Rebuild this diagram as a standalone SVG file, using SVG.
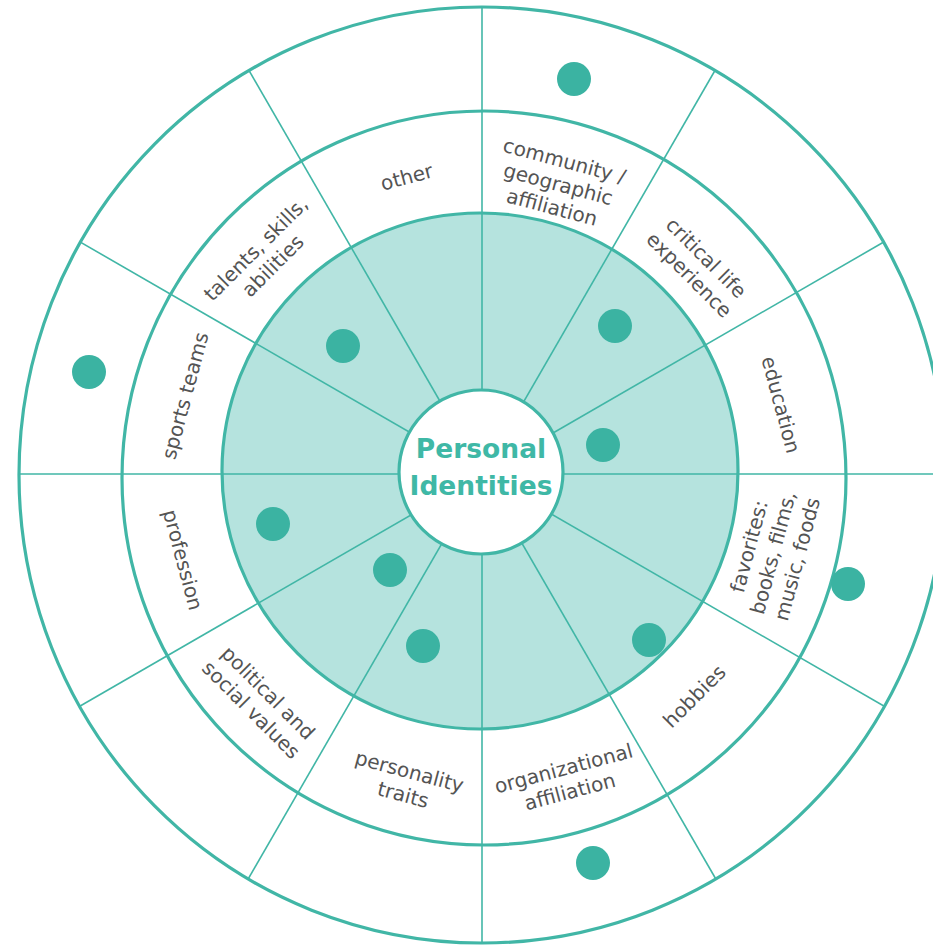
<svg xmlns="http://www.w3.org/2000/svg" width="933" height="945" viewBox="0 0 933 945">
  <style>
    .ring { fill: none; stroke: #41b6a6; stroke-width: 3.2; }
    .spoke { stroke: #41b6a6; stroke-width: 1.6; }
    .dot { fill: #3bb3a2; }
    .label { font-family: "DejaVu Sans", "Noto Sans", sans-serif; font-size: 20px; fill: #545454; text-anchor: middle; }
    .title { font-family: "DejaVu Sans", "Noto Sans", sans-serif; font-size: 26.5px; font-weight: bold; fill: #3fb8a6; text-anchor: middle; }
  </style>
  <defs>
    <clipPath id="outerClip">
      <ellipse cx="482" cy="475" rx="463" ry="468"/>
    </clipPath>
  </defs>

  <rect width="933" height="945" fill="#ffffff"/>

  <!-- shaded inner disc -->
  <circle id="inner-disc" cx="480" cy="471" r="258" fill="#b5e3de"/>

  <!-- twelve spokes, 30 degrees apart, trimmed to the outer ring -->
  <g id="spokes" class="spoke" clip-path="url(#outerClip)">
    <line x1="482" y1="474" x2="1000" y2="474"/>
    <line x1="482" y1="474" x2="915" y2="724"/>
    <line x1="482" y1="474" x2="732" y2="907"/>
    <line x1="482" y1="474" x2="482" y2="1000"/>
    <line x1="482" y1="474" x2="232" y2="907"/>
    <line x1="482" y1="474" x2="49" y2="724"/>
    <line x1="482" y1="474" x2="-40" y2="474"/>
    <line x1="482" y1="474" x2="49" y2="224"/>
    <line x1="482" y1="474" x2="232" y2="41"/>
    <line x1="482" y1="474" x2="482" y2="-60"/>
    <line x1="482" y1="474" x2="732" y2="41"/>
    <line x1="482" y1="474" x2="915" y2="224"/>
  </g>

  <!-- ring outlines -->
  <g id="rings">
    <ellipse class="ring" cx="482" cy="475" rx="463" ry="468"/>
    <ellipse class="ring" cx="484" cy="478" rx="362" ry="367"/>
    <circle class="ring" cx="480" cy="471" r="258"/>
  </g>

  <!-- hub -->
  <g id="hub">
    <circle cx="481" cy="472" r="82" fill="#ffffff" stroke="#41b6a6" stroke-width="3.2"/>
    <text class="title" x="481" y="458">Personal</text>
    <text class="title" x="481" y="495">Identities</text>
  </g>

  <!-- sector labels -->
  <g id="label-community" transform="translate(558,185) rotate(15)">
    <text class="label"><tspan x="0" y="-18">community /</tspan><tspan x="0" y="6">geographic</tspan><tspan x="0" y="30">affiliation</tspan></text>
  </g>
  <g id="label-critical" transform="translate(697,267) rotate(45)">
    <text class="label"><tspan x="0" y="-6">critical life</tspan><tspan x="0" y="18">experience</tspan></text>
  </g>
  <g id="label-education" transform="translate(780,405) rotate(75)">
    <text class="label" x="0" y="6">education</text>
  </g>
  <g id="label-favorites" transform="translate(774,553) rotate(-75)">
    <text class="label"><tspan x="0" y="-19">favorites:</tspan><tspan x="0" y="6">books, films,</tspan><tspan x="0" y="31">music, foods</tspan></text>
  </g>
  <g id="label-hobbies" transform="translate(695,697) rotate(-45)">
    <text class="label" x="0" y="6">hobbies</text>
  </g>
  <g id="label-organizational" transform="translate(567,781) rotate(-15)">
    <text class="label"><tspan x="0" y="-6">organizational</tspan><tspan x="0" y="18">affiliation</tspan></text>
  </g>
  <g id="label-personality" transform="translate(406,784) rotate(15)">
    <text class="label"><tspan x="0" y="-6">personality</tspan><tspan x="0" y="18">traits</tspan></text>
  </g>
  <g id="label-political" transform="translate(259,702) rotate(45)">
    <text class="label"><tspan x="0" y="-6">political and</tspan><tspan x="0" y="18">social values</tspan></text>
  </g>
  <g id="label-profession" transform="translate(182,560) rotate(75)">
    <text class="label" x="0" y="6">profession</text>
  </g>
  <g id="label-sports" transform="translate(186,396) rotate(-75)">
    <text class="label" x="0" y="6">sports teams</text>
  </g>
  <g id="label-talents" transform="translate(265,258) rotate(-45)">
    <text class="label"><tspan x="0" y="-6">talents, skills,</tspan><tspan x="0" y="18">abilities</tspan></text>
  </g>
  <g id="label-other" transform="translate(407,178) rotate(-15)">
    <text class="label" x="0" y="6">other</text>
  </g>

  <!-- markers -->
  <g id="dots">
    <circle class="dot" cx="574" cy="79" r="17"/>
    <circle class="dot" cx="89" cy="372" r="17"/>
    <circle class="dot" cx="343" cy="346" r="17"/>
    <circle class="dot" cx="615" cy="326" r="17"/>
    <circle class="dot" cx="603" cy="445" r="17"/>
    <circle class="dot" cx="273" cy="524" r="17"/>
    <circle class="dot" cx="390" cy="570" r="17"/>
    <circle class="dot" cx="423" cy="646" r="17"/>
    <circle class="dot" cx="649" cy="640" r="17"/>
    <circle class="dot" cx="848" cy="584" r="17"/>
    <circle class="dot" cx="593" cy="863" r="17"/>
  </g>
</svg>
